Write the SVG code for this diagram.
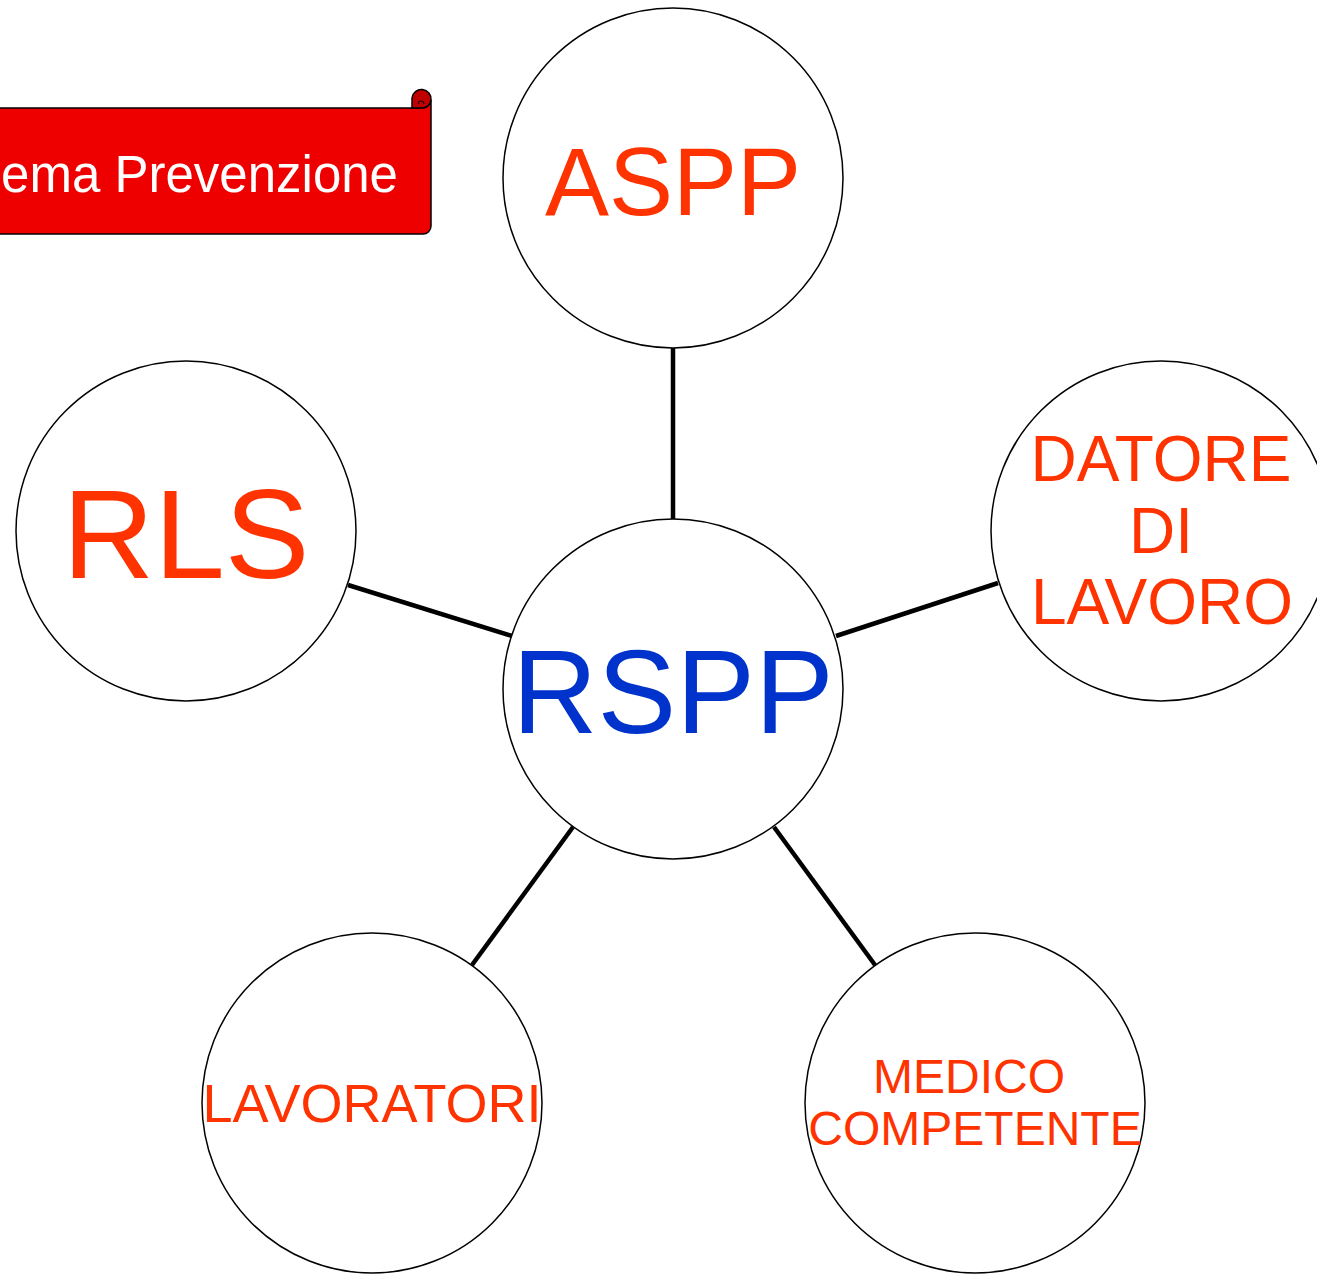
<svg xmlns="http://www.w3.org/2000/svg" width="1317" height="1274" viewBox="0 0 1317 1274">
<style>
.node{fill:#fff;stroke:#000;stroke-width:1.5}
.lbl{font-family:"Liberation Sans",Arial,sans-serif;fill:#ff3300;text-anchor:middle}
.conn{stroke:#000;stroke-width:4.5;fill:none}
</style>
<rect width="1317" height="1274" fill="#fff"/>
<g id="banner">
<path d="M-10,108 H421 A9,9 0 0 0 431,100 V226 A8,8 0 0 1 423,234 H-10 Z" fill="#ee0000" stroke="#000" stroke-width="1.5"/>
<path d="M412,108 V98 A9,9 0 1 1 431,100 V100 A9,9 0 0 1 421,108 Z" fill="#c00000" stroke="#000" stroke-width="1.5"/>
<path d="M418,104 A3,3 0 0 1 424,104" fill="none" stroke="#000" stroke-width="1"/>
<text x="398" y="192" font-family="Liberation Sans,Arial,sans-serif" font-size="51" fill="#fff" text-anchor="end">ema Prevenzione</text>
</g>
<g id="connectors">
<line class="conn" x1="673" y1="348" x2="673" y2="519"/>
<line class="conn" x1="348" y1="585" x2="512" y2="636"/>
<line class="conn" x1="998" y1="583" x2="836" y2="636"/>
<line class="conn" x1="472" y1="965" x2="573" y2="827"/>
<line class="conn" x1="875" y1="965" x2="774" y2="827"/>
</g>
<g id="aspp"><circle class="node" cx="673" cy="178" r="170"/><text class="lbl" x="673" y="215" font-size="96">ASPP</text></g>
<g id="rspp"><circle class="node" cx="673" cy="689" r="170"/><text class="lbl" x="673" y="733" font-size="118" style="fill:#0033cc">RSPP</text></g>
<g id="rls"><circle class="node" cx="186" cy="531" r="170"/><text class="lbl" x="186" y="578" font-size="127">RLS</text></g>
<g id="datore"><circle class="node" cx="1161" cy="531" r="170"/><text class="lbl" font-size="64"><tspan x="1161" y="481">DATORE</tspan><tspan x="1161" y="553">DI</tspan><tspan x="1162" y="624">LAVORO</tspan></text></g>
<g id="lavoratori"><circle class="node" cx="372" cy="1103" r="170"/><text class="lbl" x="372" y="1122" font-size="54">LAVORATORI</text></g>
<g id="medico"><circle class="node" cx="975" cy="1103" r="170"/><text class="lbl" font-size="48"><tspan x="969" y="1093">MEDICO</tspan><tspan x="975" y="1145">COMPETENTE</tspan></text></g>
</svg>
